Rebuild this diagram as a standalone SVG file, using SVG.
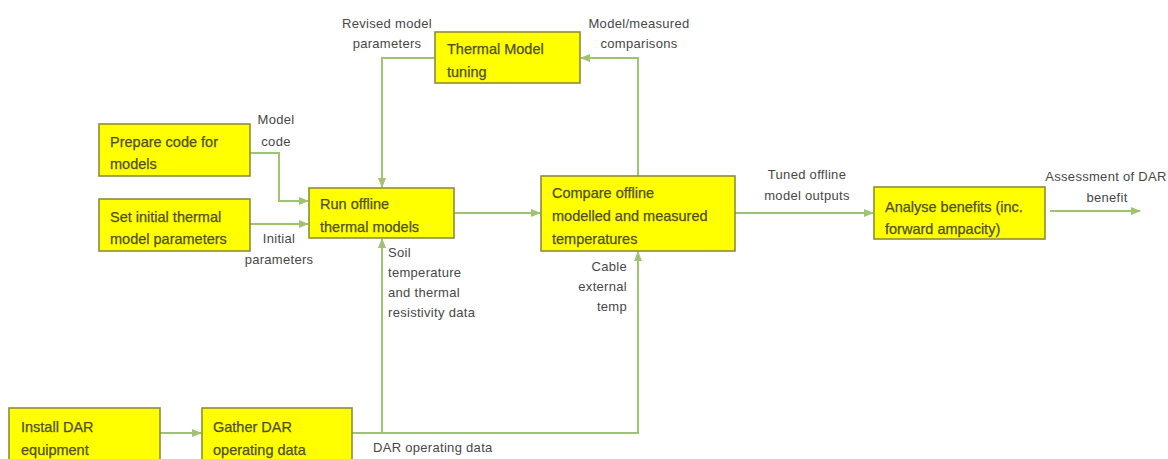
<svg xmlns="http://www.w3.org/2000/svg" width="1168" height="459" viewBox="0 0 1168 459">
  <style>
    .box { fill: #ffff00; stroke: #8c8c3c; stroke-width: 1.6; }
    .nt { font-family: "Liberation Sans", Arial, sans-serif; font-size: 14.5px; fill: #4f4f1e; stroke: #4f4f1e; stroke-width: 0.25px; }
    .lb { font-family: "Liberation Sans", Arial, sans-serif; font-size: 13px; fill: #474747; letter-spacing: 0.3px; }
    .mid { text-anchor: middle; }
    .end { text-anchor: end; }
    .wire { fill: none; stroke: #a0c273; stroke-width: 2; }
  </style>
  <defs>
    <marker id="arrow" viewBox="0 0 10 10" refX="9" refY="5" markerWidth="5" markerHeight="5" orient="auto" markerUnits="strokeWidth">
      <path d="M0,1 L10,5 L0,9 Z" fill="#a0c273"/>
    </marker>
  </defs>
  <rect width="1168" height="459" fill="#ffffff"/>

  <!-- flow lines between steps -->
  <g id="connectors">
    <path class="wire" d="M250,153 H279 V201 H308" marker-end="url(#arrow)"/>
    <path class="wire" d="M250,224 H308" marker-end="url(#arrow)"/>
    <path class="wire" d="M435,58 H382 V187" marker-end="url(#arrow)"/>
    <path class="wire" d="M638,176 V58 H581" marker-end="url(#arrow)"/>
    <path class="wire" d="M454,213 H540" marker-end="url(#arrow)"/>
    <path class="wire" d="M735,213 H873" marker-end="url(#arrow)"/>
    <path class="wire" d="M1050,211 H1140" marker-end="url(#arrow)"/>
    <path class="wire" d="M160,433 H201" marker-end="url(#arrow)"/>
    <path class="wire" d="M352,433 H638 V252" marker-end="url(#arrow)"/>
    <path class="wire" d="M382,433 V239" marker-end="url(#arrow)"/>

    <text class="lb mid" x="276" y="124">Model</text>
    <text class="lb mid" x="276" y="146">code</text>
    <text class="lb mid" x="279" y="243">Initial</text>
    <text class="lb mid" x="279" y="264">parameters</text>
    <text class="lb mid" x="387" y="28">Revised model</text>
    <text class="lb mid" x="387" y="48">parameters</text>
    <text class="lb mid" x="639" y="28">Model/measured</text>
    <text class="lb mid" x="639" y="48">comparisons</text>
    <text class="lb mid" x="807" y="179">Tuned offline</text>
    <text class="lb mid" x="807" y="200">model outputs</text>
    <text class="lb mid" x="1106" y="181">Assessment  of DAR</text>
    <text class="lb mid" x="1107" y="202">benefit</text>
    <text class="lb" x="388" y="257">Soil</text>
    <text class="lb" x="388" y="277">temperature</text>
    <text class="lb" x="388" y="297">and thermal</text>
    <text class="lb" x="388" y="317">resistivity data</text>
    <text class="lb end" x="627" y="271">Cable</text>
    <text class="lb end" x="627" y="291">external</text>
    <text class="lb end" x="627" y="311">temp</text>
    <text class="lb" x="373" y="452">DAR operating data</text>
  </g>

  <g id="prepare-code">
    <rect class="box" x="99" y="124" width="151" height="52"/>
    <text class="nt" x="110" y="147">Prepare code for</text>
    <text class="nt" x="110" y="169">models</text>
  </g>

  <g id="set-initial">
    <rect class="box" x="99" y="199" width="151" height="52"/>
    <text class="nt" x="110" y="222">Set initial thermal</text>
    <text class="nt" x="110" y="244">model parameters</text>
  </g>

  <g id="run-offline">
    <rect class="box" x="309" y="188" width="145" height="50"/>
    <text class="nt" x="320" y="209">Run offline</text>
    <text class="nt" x="320" y="232">thermal models</text>
  </g>

  <g id="model-tuning">
    <rect class="box" x="435" y="32" width="145" height="51"/>
    <text class="nt" x="447" y="54">Thermal Model</text>
    <text class="nt" x="447" y="77">tuning</text>
  </g>

  <g id="compare">
    <rect class="box" x="541" y="176" width="194" height="75"/>
    <text class="nt" x="552" y="198">Compare offline</text>
    <text class="nt" x="552" y="221">modelled and measured</text>
    <text class="nt" x="552" y="244">temperatures</text>
  </g>

  <g id="analyse">
    <rect class="box" x="874" y="187" width="171" height="52"/>
    <text class="nt" x="885" y="212">Analyse benefits (inc.</text>
    <text class="nt" x="885" y="234">forward ampacity)</text>
  </g>

  <g id="install-dar">
    <rect class="box" x="9" y="408" width="151" height="60"/>
    <text class="nt" x="21" y="432">Install DAR</text>
    <text class="nt" x="21" y="455">equipment</text>
  </g>

  <g id="gather-dar">
    <rect class="box" x="202" y="408" width="150" height="60"/>
    <text class="nt" x="213" y="432">Gather DAR</text>
    <text class="nt" x="213" y="455">operating data</text>
  </g>
</svg>
